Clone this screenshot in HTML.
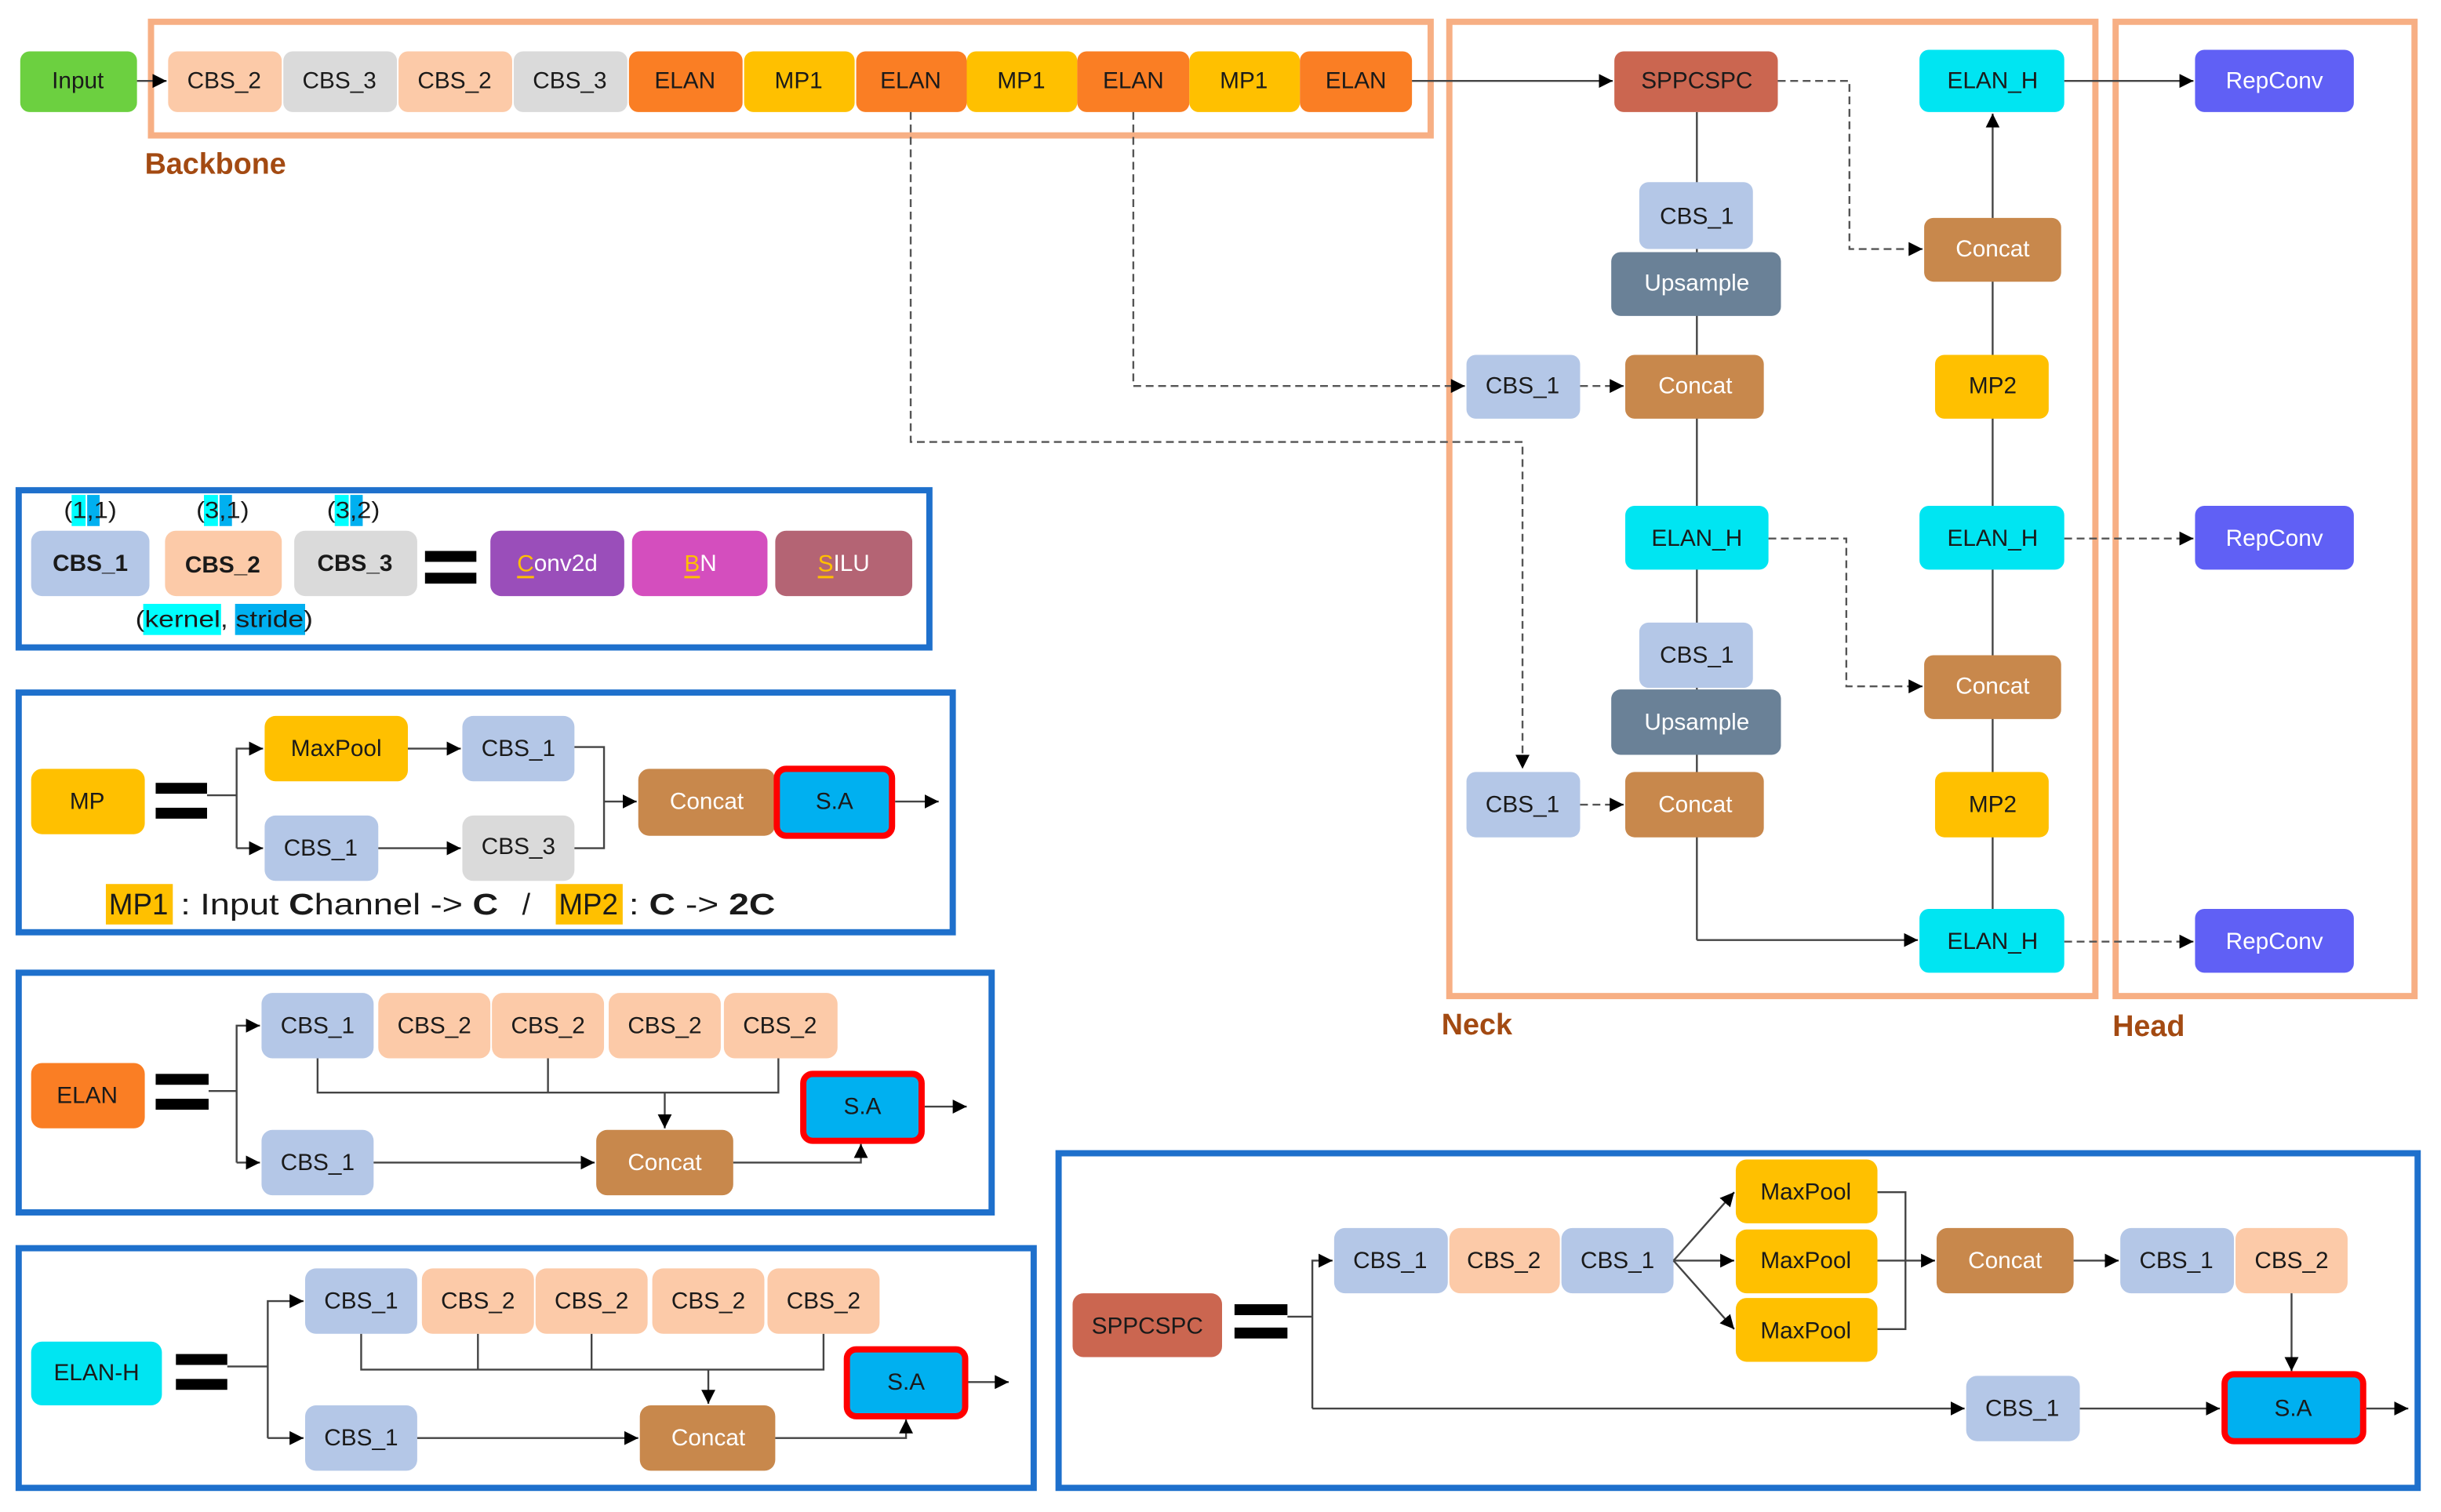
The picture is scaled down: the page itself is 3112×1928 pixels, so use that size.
<!DOCTYPE html>
<html><head><meta charset="utf-8"><style>
html,body{margin:0;padding:0;background:#fff}
svg{display:block}
text{font-family:"Liberation Sans Narrow","Liberation Sans",sans-serif;font-size:15px;text-anchor:middle;dominant-baseline:central;fill:#1a1a1a}
.w{fill:#fff}
.b{font-weight:bold}
.s{text-anchor:start}
.lbl{font-family:"Liberation Sans",sans-serif;font-weight:bold;font-size:19px;fill:#A34A12;text-anchor:start}
.ln{stroke:#444;stroke-width:1.2;fill:none}
.ds{stroke:#555;stroke-width:1.2;fill:none;stroke-dasharray:5 3}
</style></head><body>
<svg width="3112" height="1928" viewBox="0 0 1568 971.5" preserveAspectRatio="none" xmlns="http://www.w3.org/2000/svg">
<defs><marker id="a" viewBox="0 0 10 10" refX="10" refY="5" markerWidth="9" markerHeight="9" markerUnits="userSpaceOnUse" orient="auto"><path d="M0,0L10,5L0,10z" fill="#000"/></marker></defs>
<rect width="1568" height="972" fill="#fff"/>

<!-- frames -->
<rect x="97" y="14" width="822" height="73" fill="none" stroke="#F7AF84" stroke-width="4"/>
<rect x="931" y="14" width="415" height="626" fill="none" stroke="#F7AF84" stroke-width="4"/>
<rect x="1359" y="14" width="192" height="626" fill="none" stroke="#F7AF84" stroke-width="4"/>
<text class="lbl" x="93" y="105">Backbone</text>
<text class="lbl" x="926" y="658">Neck</text>
<text class="lbl" x="1357" y="659">Head</text>

<!-- top row -->
<rect x="13" y="33" width="75" height="39" rx="6" fill="#6CD040"/><text x="50" y="52">Input</text>
<line class="ln" x1="88" y1="52" x2="107" y2="52" marker-end="url(#a)"/>
<rect x="108" y="33" width="73" height="39" rx="6" fill="#FCCAA8"/><text x="144" y="52">CBS_2</text>
<rect x="182" y="33" width="73" height="39" rx="6" fill="#DADADA"/><text x="218" y="52">CBS_3</text>
<rect x="256" y="33" width="73" height="39" rx="6" fill="#FCCAA8"/><text x="292" y="52">CBS_2</text>
<rect x="330" y="33" width="73" height="39" rx="6" fill="#DADADA"/><text x="366" y="52">CBS_3</text>
<rect x="404" y="33" width="73" height="39" rx="6" fill="#FA7E24"/><text x="440" y="52">ELAN</text>
<rect x="478" y="33" width="71" height="39" rx="6" fill="#FFC000"/><text x="513" y="52">MP1</text>
<rect x="550" y="33" width="71" height="39" rx="6" fill="#FA7E24"/><text x="585" y="52">ELAN</text>
<rect x="621" y="33" width="71" height="39" rx="6" fill="#FFC000"/><text x="656" y="52">MP1</text>
<rect x="692" y="33" width="72" height="39" rx="6" fill="#FA7E24"/><text x="728" y="52">ELAN</text>
<rect x="764" y="33" width="71" height="39" rx="6" fill="#FFC000"/><text x="799" y="52">MP1</text>
<rect x="835" y="33" width="72" height="39" rx="6" fill="#FA7E24"/><text x="871" y="52">ELAN</text>
<line class="ln" x1="907" y1="52" x2="1036" y2="52" marker-end="url(#a)"/>

<!-- backbone dashed -->
<polyline class="ds" points="728,72 728,248 941,248" marker-end="url(#a)"/>
<polyline class="ds" points="585,72 585,284 978,284 978,494" marker-end="url(#a)"/>

<!-- neck -->
<line class="ln" x1="1090" y1="72" x2="1090" y2="604"/>
<polyline class="ln" points="1090,604 1232,604" marker-end="url(#a)"/>
<line class="ln" x1="1280" y1="584" x2="1280" y2="73" marker-end="url(#a)"/>
<rect x="1037" y="33" width="105" height="39" rx="6" fill="#CB6650"/><text x="1090" y="52">SPPCSPC</text>
<rect x="1053" y="117" width="73" height="43" rx="6" fill="#B4C7E7"/><text x="1090" y="139">CBS_1</text>
<rect x="1035" y="162" width="109" height="41" rx="6" fill="#6A8197"/><text class="w" x="1090" y="182">Upsample</text>
<rect x="1044" y="228" width="89" height="41" rx="6" fill="#C8884C"/><text class="w" x="1089" y="248">Concat</text>
<rect x="942" y="228" width="73" height="41" rx="6" fill="#B4C7E7"/><text x="978" y="248">CBS_1</text>
<line class="ds" x1="1015" y1="248" x2="1043" y2="248" marker-end="url(#a)"/>
<rect x="1044" y="325" width="92" height="41" rx="6" fill="#00E5F2"/><text x="1090" y="346">ELAN_H</text>
<rect x="1053" y="400" width="73" height="42" rx="6" fill="#B4C7E7"/><text x="1090" y="421">CBS_1</text>
<rect x="1035" y="443" width="109" height="42" rx="6" fill="#6A8197"/><text class="w" x="1090" y="464">Upsample</text>
<rect x="1044" y="496" width="89" height="42" rx="6" fill="#C8884C"/><text class="w" x="1089" y="517">Concat</text>
<rect x="942" y="496" width="73" height="42" rx="6" fill="#B4C7E7"/><text x="978" y="517">CBS_1</text>
<line class="ds" x1="1015" y1="517" x2="1043" y2="517" marker-end="url(#a)"/>

<rect x="1233" y="32" width="93" height="40" rx="6" fill="#00E5F2"/><text x="1280" y="52">ELAN_H</text>
<rect x="1236" y="140" width="88" height="41" rx="6" fill="#C8884C"/><text class="w" x="1280" y="160">Concat</text>
<rect x="1243" y="228" width="73" height="41" rx="6" fill="#FFC000"/><text x="1280" y="248">MP2</text>
<rect x="1233" y="325" width="93" height="41" rx="6" fill="#00E5F2"/><text x="1280" y="346">ELAN_H</text>
<rect x="1236" y="421" width="88" height="41" rx="6" fill="#C8884C"/><text class="w" x="1280" y="441">Concat</text>
<rect x="1243" y="496" width="73" height="42" rx="6" fill="#FFC000"/><text x="1280" y="517">MP2</text>
<rect x="1233" y="584" width="93" height="41" rx="6" fill="#00E5F2"/><text x="1280" y="605">ELAN_H</text>
<polyline class="ds" points="1142,52 1188,52 1188,160 1235,160" marker-end="url(#a)"/>
<polyline class="ds" points="1136,346 1186,346 1186,441 1235,441" marker-end="url(#a)"/>
<line class="ln" x1="1326" y1="52" x2="1409" y2="52" marker-end="url(#a)"/>
<line class="ds" x1="1326" y1="346" x2="1409" y2="346" marker-end="url(#a)"/>
<line class="ds" x1="1326" y1="605" x2="1409" y2="605" marker-end="url(#a)"/>
<rect x="1410" y="32" width="102" height="40" rx="6" fill="#6060F5"/><text class="w" x="1461" y="52">RepConv</text>
<rect x="1410" y="325" width="102" height="41" rx="6" fill="#6060F5"/><text class="w" x="1461" y="346">RepConv</text>
<rect x="1410" y="584" width="102" height="41" rx="6" fill="#6060F5"/><text class="w" x="1461" y="605">RepConv</text>

<!-- CBS legend -->
<rect x="12" y="315" width="585" height="101" fill="none" stroke="#1E70CC" stroke-width="4"/>
<rect x="46" y="318" width="9" height="20" fill="#00FFFF"/><rect x="56" y="318" width="8" height="20" fill="#00B0F0"/>
<text class="s" x="41" y="328" textLength="34" lengthAdjust="spacingAndGlyphs">(1,1)</text>
<rect x="131" y="318" width="9" height="20" fill="#00FFFF"/><rect x="141" y="318" width="8" height="20" fill="#00B0F0"/>
<text class="s" x="126" y="328" textLength="34" lengthAdjust="spacingAndGlyphs">(3,1)</text>
<rect x="215" y="318" width="9" height="20" fill="#00FFFF"/><rect x="225" y="318" width="8" height="20" fill="#00B0F0"/>
<text class="s" x="210" y="328" textLength="34" lengthAdjust="spacingAndGlyphs">(3,2)</text>
<rect x="20" y="341" width="76" height="42" rx="7" fill="#B4C7E7"/><text class="b" x="58" y="362">CBS_1</text>
<rect x="106" y="341" width="75" height="42" rx="7" fill="#FCCAA8"/><text class="b" x="143" y="363">CBS_2</text>
<rect x="189" y="341" width="79" height="42" rx="7" fill="#DADADA"/><text class="b" x="228" y="362">CBS_3</text>
<rect x="273" y="354" width="33" height="7" fill="#000"/><rect x="273" y="368" width="33" height="7" fill="#000"/>
<rect x="315" y="341" width="86" height="42" rx="7" fill="#9A4EBA"/><text class="w" x="358" y="362"><tspan fill="#FFC000" text-decoration="underline">C</tspan>onv2d</text>
<rect x="406" y="341" width="87" height="42" rx="7" fill="#D44EBE"/><text class="w" x="450" y="362"><tspan fill="#FFC000" text-decoration="underline">B</tspan>N</text>
<rect x="498" y="341" width="88" height="42" rx="7" fill="#B46474"/><text class="w" x="542" y="362"><tspan fill="#FFC000" text-decoration="underline">S</tspan>ILU</text>
<rect x="92" y="388" width="50" height="20" fill="#00FFFF"/><rect x="151" y="388" width="45" height="20" fill="#00B0F0"/>
<text class="s" x="87" y="398" textLength="114" lengthAdjust="spacingAndGlyphs">(kernel, stride)</text>

<!-- MP -->
<rect x="12" y="445" width="600" height="154" fill="none" stroke="#1E70CC" stroke-width="4"/>
<rect x="20" y="494" width="73" height="42" rx="7" fill="#FFC000"/><text x="56" y="515">MP</text>
<rect x="100" y="503" width="33" height="7" fill="#000"/><rect x="100" y="519" width="33" height="7" fill="#000"/>
<polyline class="ln" points="133,511 152,511"/>
<polyline class="ln" points="152,545 152,481 169,481" marker-end="url(#a)"/>
<polyline class="ln" points="152,545 169,545" marker-end="url(#a)"/>
<rect x="170" y="460" width="92" height="42" rx="7" fill="#FFC000"/><text x="216" y="481">MaxPool</text>
<rect x="297" y="460" width="72" height="42" rx="7" fill="#B4C7E7"/><text x="333" y="481">CBS_1</text>
<rect x="170" y="524" width="73" height="42" rx="7" fill="#B4C7E7"/><text x="206" y="545">CBS_1</text>
<rect x="297" y="524" width="72" height="42" rx="7" fill="#DADADA"/><text x="333" y="544">CBS_3</text>
<line class="ln" x1="262" y1="481" x2="296" y2="481" marker-end="url(#a)"/>
<line class="ln" x1="243" y1="545" x2="296" y2="545" marker-end="url(#a)"/>
<polyline class="ln" points="369,480 388,480 388,545 369,545"/>
<line class="ln" x1="388" y1="515" x2="409" y2="515" marker-end="url(#a)"/>
<rect x="410" y="494" width="88" height="43" rx="7" fill="#C8884C"/><text class="w" x="454" y="515">Concat</text>
<rect x="499" y="494" width="74" height="43" rx="6" fill="#00B0F0" stroke="#F00" stroke-width="4"/><text x="536" y="515">S.A</text>
<line class="ln" x1="575" y1="515" x2="603" y2="515" marker-end="url(#a)"/>
<rect x="68" y="568" width="43" height="26" fill="#FFC000"/><rect x="357" y="568" width="43" height="26" fill="#FFC000"/>
<text x="89" y="581" style="font-size:19px" textLength="38" lengthAdjust="spacingAndGlyphs">MP1</text>
<text class="s" x="116" y="581" style="font-size:19px" textLength="204" lengthAdjust="spacingAndGlyphs">: Input <tspan class="b">C</tspan>hannel -&gt; <tspan class="b">C</tspan></text>
<text x="338" y="581" style="font-size:19px">/</text>
<text x="378" y="581" style="font-size:19px" textLength="38" lengthAdjust="spacingAndGlyphs">MP2</text>
<text class="s" x="404" y="581" style="font-size:19px" textLength="94" lengthAdjust="spacingAndGlyphs">: <tspan class="b">C</tspan> -&gt; <tspan class="b">2C</tspan></text>

<!-- ELAN -->
<rect x="12" y="625" width="625" height="154" fill="none" stroke="#1E70CC" stroke-width="4"/>
<rect x="20" y="683" width="73" height="42" rx="7" fill="#FA7E24"/><text x="56" y="704">ELAN</text>
<rect x="100" y="690" width="34" height="7" fill="#000"/><rect x="100" y="706" width="34" height="7" fill="#000"/>
<line class="ln" x1="134" y1="701" x2="152" y2="701"/>
<polyline class="ln" points="152,747 152,659 167,659" marker-end="url(#a)"/>
<line class="ln" x1="152" y1="747" x2="167" y2="747" marker-end="url(#a)"/>
<polyline class="ln" points="204,680 204,702 500,702 500,680"/>
<line class="ln" x1="352" y1="680" x2="352" y2="702"/>
<line class="ln" x1="427" y1="702" x2="427" y2="725" marker-end="url(#a)"/>
<rect x="168" y="638" width="72" height="42" rx="7" fill="#B4C7E7"/><text x="204" y="659">CBS_1</text>
<rect x="243" y="638" width="72" height="42" rx="7" fill="#FCCAA8"/><text x="279" y="659">CBS_2</text>
<rect x="316" y="638" width="72" height="42" rx="7" fill="#FCCAA8"/><text x="352" y="659">CBS_2</text>
<rect x="391" y="638" width="72" height="42" rx="7" fill="#FCCAA8"/><text x="427" y="659">CBS_2</text>
<rect x="465" y="638" width="73" height="42" rx="7" fill="#FCCAA8"/><text x="501" y="659">CBS_2</text>
<rect x="168" y="726" width="72" height="42" rx="7" fill="#B4C7E7"/><text x="204" y="747">CBS_1</text>
<line class="ln" x1="240" y1="747" x2="382" y2="747" marker-end="url(#a)"/>
<rect x="383" y="726" width="88" height="42" rx="7" fill="#C8884C"/><text class="w" x="427" y="747">Concat</text>
<polyline class="ln" points="471,747 553,747 553,735" marker-end="url(#a)"/>
<rect x="516" y="690" width="76" height="43" rx="6" fill="#00B0F0" stroke="#F00" stroke-width="4"/><text x="554" y="711">S.A</text>
<line class="ln" x1="594" y1="711" x2="621" y2="711" marker-end="url(#a)"/>

<!-- ELAN-H -->
<rect x="12" y="802" width="652" height="154" fill="none" stroke="#1E70CC" stroke-width="4"/>
<rect x="20" y="862" width="84" height="41" rx="7" fill="#00E5F2"/><text x="62" y="882">ELAN-H</text>
<rect x="113" y="870" width="33" height="7" fill="#000"/><rect x="113" y="886" width="33" height="7" fill="#000"/>
<line class="ln" x1="146" y1="878" x2="172" y2="878"/>
<polyline class="ln" points="172,924 172,836 195,836" marker-end="url(#a)"/>
<line class="ln" x1="172" y1="924" x2="195" y2="924" marker-end="url(#a)"/>
<polyline class="ln" points="232,857 232,880 529,880 529,857"/>
<line class="ln" x1="307" y1="857" x2="307" y2="880"/>
<line class="ln" x1="380" y1="857" x2="380" y2="880"/>
<line class="ln" x1="455" y1="880" x2="455" y2="902" marker-end="url(#a)"/>
<rect x="196" y="815" width="72" height="42" rx="7" fill="#B4C7E7"/><text x="232" y="836">CBS_1</text>
<rect x="271" y="815" width="72" height="42" rx="7" fill="#FCCAA8"/><text x="307" y="836">CBS_2</text>
<rect x="344" y="815" width="72" height="42" rx="7" fill="#FCCAA8"/><text x="380" y="836">CBS_2</text>
<rect x="419" y="815" width="72" height="42" rx="7" fill="#FCCAA8"/><text x="455" y="836">CBS_2</text>
<rect x="493" y="815" width="72" height="42" rx="7" fill="#FCCAA8"/><text x="529" y="836">CBS_2</text>
<rect x="196" y="903" width="72" height="42" rx="7" fill="#B4C7E7"/><text x="232" y="924">CBS_1</text>
<line class="ln" x1="268" y1="924" x2="410" y2="924" marker-end="url(#a)"/>
<rect x="411" y="903" width="87" height="42" rx="7" fill="#C8884C"/><text class="w" x="455" y="924">Concat</text>
<polyline class="ln" points="498,924 582,924 582,912" marker-end="url(#a)"/>
<rect x="544" y="867" width="76" height="43" rx="6" fill="#00B0F0" stroke="#F00" stroke-width="4"/><text x="582" y="888">S.A</text>
<line class="ln" x1="622" y1="888" x2="648" y2="888" marker-end="url(#a)"/>

<!-- SPPCSPC -->
<rect x="680" y="741" width="873" height="215" fill="none" stroke="#1E70CC" stroke-width="4"/>
<rect x="689" y="831" width="96" height="41" rx="7" fill="#CB6650"/><text x="737" y="852">SPPCSPC</text>
<rect x="793" y="838" width="34" height="7" fill="#000"/><rect x="793" y="853" width="34" height="7" fill="#000"/>
<line class="ln" x1="827" y1="846" x2="843" y2="846"/>
<polyline class="ln" points="843,905 843,810 856,810" marker-end="url(#a)"/>
<line class="ln" x1="843" y1="905" x2="1262" y2="905" marker-end="url(#a)"/>
<rect x="857" y="789" width="73" height="42" rx="7" fill="#B4C7E7"/><text x="893" y="810">CBS_1</text>
<rect x="931" y="789" width="71" height="42" rx="7" fill="#FCCAA8"/><text x="966" y="810">CBS_2</text>
<rect x="1003" y="789" width="72" height="42" rx="7" fill="#B4C7E7"/><text x="1039" y="810">CBS_1</text>
<line class="ln" x1="1075" y1="810" x2="1114" y2="766" marker-end="url(#a)"/>
<line class="ln" x1="1075" y1="810" x2="1114" y2="810" marker-end="url(#a)"/>
<line class="ln" x1="1075" y1="810" x2="1114" y2="854" marker-end="url(#a)"/>
<rect x="1115" y="745" width="91" height="41" rx="7" fill="#FFC000"/><text x="1160" y="766">MaxPool</text>
<rect x="1115" y="790" width="91" height="41" rx="7" fill="#FFC000"/><text x="1160" y="810">MaxPool</text>
<rect x="1115" y="834" width="91" height="41" rx="7" fill="#FFC000"/><text x="1160" y="855">MaxPool</text>
<polyline class="ln" points="1206,766 1224,766 1224,854 1206,854"/>
<line class="ln" x1="1206" y1="810" x2="1243" y2="810" marker-end="url(#a)"/>
<rect x="1244" y="789" width="88" height="42" rx="7" fill="#C8884C"/><text class="w" x="1288" y="810">Concat</text>
<line class="ln" x1="1332" y1="810" x2="1361" y2="810" marker-end="url(#a)"/>
<rect x="1362" y="789" width="73" height="42" rx="7" fill="#B4C7E7"/><text x="1398" y="810">CBS_1</text>
<rect x="1436" y="789" width="72" height="42" rx="7" fill="#FCCAA8"/><text x="1472" y="810">CBS_2</text>
<line class="ln" x1="1472" y1="831" x2="1472" y2="881" marker-end="url(#a)"/>
<rect x="1263" y="884" width="73" height="42" rx="7" fill="#B4C7E7"/><text x="1299" y="905">CBS_1</text>
<line class="ln" x1="1336" y1="905" x2="1426" y2="905" marker-end="url(#a)"/>
<rect x="1429" y="883" width="89" height="43" rx="6" fill="#00B0F0" stroke="#F00" stroke-width="4"/><text x="1473" y="905">S.A</text>
<line class="ln" x1="1520" y1="905" x2="1547" y2="905" marker-end="url(#a)"/>
</svg>
</body></html>
